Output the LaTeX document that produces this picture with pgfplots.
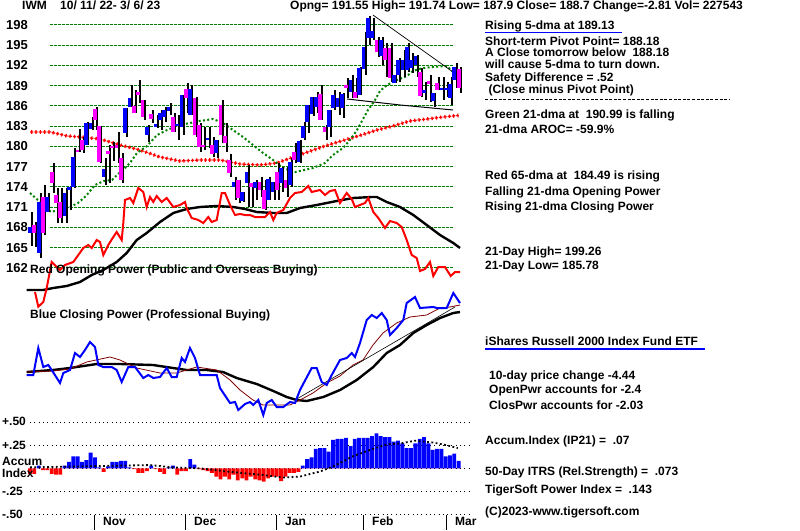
\documentclass[border=0pt]{standalone}
\usepackage{pgfplots}
\pgfplotsset{compat=1.18}
\usepackage{pgfplotstable}
\usepackage{fontspec}
\setmainfont{Liberation Sans}

\definecolor{tsblue}{RGB}{0,0,255}
\definecolor{tsmag}{RGB}{255,0,255}
\definecolor{tsred}{RGB}{255,0,0}
\definecolor{tsgreen}{RGB}{0,128,0}
\definecolor{tsmaroon}{RGB}{128,0,0}

\newcommand\tf{\fontsize{12}{14}\selectfont\bfseries}
\newcommand\pf{\fontsize{13}{15}\selectfont\bfseries}

% daily bars: day, open, high, low, close
\pgfplotstableread{
d o h l c
0 167.19 170.30 165.26 168.07
1 168.37 168.81 165.11 167.19
2 164.22 173.11 163.50 171.78
3 172.52 174.30 166.89 167.19
4 170.30 173.11 170.30 172.52
5 176.22 177.56 173.11 174.59
6 172.81 173.85 168.67 171.63
7 171.78 173.85 168.67 169.41
8 169.70 173.85 168.67 173.11
9 173.56 174.00 170.59 174.00
10 174.00 179.78 173.85 178.44
11 179.48 182.59 179.19 179.19
12 180.96 181.41 179.04 179.48
13 180.22 183.63 180.22 183.48
14 182.59 184.37 182.44 183.48
15 185.56 185.85 182.44 183.93
16 183.04 183.04 177.56 177.70
17 175.48 178.30 174.30 176.67
18 179.19 180.22 174.59 179.04
19 180.07 180.67 177.85 179.78
20 180.22 182.15 177.56 179.78
21 178.30 179.04 174.59 175.04
22 182.00 185.70 181.41 185.70
23 185.85 189.11 185.85 187.19
24 186.00 188.37 184.96 184.96
25 188.07 189.85 186.44 187.63
26 186.89 186.89 183.93 184.37
27 181.70 183.19 180.67 182.89
28 184.81 185.41 183.48 184.07
29 183.04 184.67 182.74 183.19
30 183.93 185.41 182.44 184.96
31 184.37 185.85 183.63 185.41
32 185.26 186.44 184.67 185.85
33 184.37 184.96 182.15 182.15
34 183.20 184.67 180.96 183.25
35 182.89 187.63 181.70 187.63
36 188.52 189.41 184.96 187.19
37 184.67 189.11 184.67 188.52
38 187.19 187.33 181.41 181.70
39 183.19 183.48 179.19 179.93
40 180.22 182.89 179.48 179.93
41 181.10 182.89 179.78 181.15
42 180.22 181.41 178.44 178.89
43 179.04 180.96 178.30 180.96
44 186.15 186.89 180.52 181.70
45 181.56 183.48 179.19 180.52
46 178.00 178.89 175.48 176.07
47 174.00 175.48 172.07 174.74
48 175.04 175.04 171.63 172.37
49 171.93 173.26 171.78 173.26
50 174.59 177.26 171.04 176.22
51 174.59 174.59 171.04 174.00
52 173.85 175.04 172.07 174.74
53 174.74 175.48 172.52 173.56
54 173.56 175.04 170.59 170.74
55 172.07 175.48 172.07 175.19
56 173.26 174.74 172.07 174.74
57 176.22 177.56 172.07 173.56
58 174.59 176.96 173.26 176.81
59 175.04 176.96 172.52 173.85
60 174.30 178.30 174.00 177.70
61 179.19 180.52 177.56 178.00
62 177.70 180.96 177.56 180.81
63 181.26 183.63 180.96 183.04
64 183.63 186.15 182.00 186.15
65 184.81 187.33 184.52 187.33
66 185.85 188.07 184.96 187.33
67 187.78 189.11 183.93 183.93
68 182.89 183.19 180.96 182.15
69 182.89 185.41 181.41 185.41
70 185.70 188.37 185.41 187.63
71 185.85 188.07 184.67 187.19
72 185.70 187.93 184.20 187.78
73 189.11 190.15 187.19 188.67
74 188.07 190.59 187.19 189.85
75 188.07 190.15 187.19 187.19
76 187.63 191.78 187.63 191.63
77 191.48 197.00 190.59 194.74
78 196.07 199.26 195.04 199.10
79 196.07 199.00 195.78 197.11
80 195.78 196.22 193.26 194.00
81 193.41 196.22 192.07 195.78
82 194.59 195.33 190.30 192.81
83 194.59 195.33 189.56 190.15
84 189.41 190.59 189.41 190.59
85 190.59 193.11 189.56 192.81
86 191.33 194.30 190.30 192.81
87 191.33 195.33 191.04 194.74
88 191.63 193.85 190.89 192.81
89 192.07 193.56 190.30 193.41
90 191.04 191.63 187.33 187.48
91 187.93 189.56 186.89 188.37
92 189.56 190.59 186.59 189.41
93 186.74 187.93 185.85 187.93
94 189.41 190.30 188.37 188.37
95 188.37 190.30 186.89 188.67
96 188.37 189.56 187.33 188.67
97 187.19 190.30 186.15 189.26
98 189.85 192.37 188.67 191.78
99 191.55 191.74 187.90 188.70
}\ohlc

% red 65-day moving average
\pgfplotstableread{
d ma
0 182.15
4.62 182.15
8.55 181.56
11.55 181.41
16.17 181.11
20.79 180.22
25.40 179.48
30.02 178.44
34.64 177.85
39.26 178.00
43.88 178.00
48.50 177.41
53.12 177.26
57.04 177.56
59.58 178.15
63.51 179.04
67.44 179.93
71.13 180.67
75.06 181.41
80.14 182.44
83.83 183.04
87.76 183.78
91.69 184.07
95.38 184.37
99 184.60
}\masixtyfive

% accumulation index (IP21), one bar a day
\pgfplotstableread{
d a
0 -0.06
1 -0.06
2 0.03
3 -0.02
4 -0.02
5 -0.06
6 -0.07
7 -0.07
8 0.03
9 0.07
10 0.13
11 0.13
12 0.07
13 0.09
14 0.17
15 0.12
16 0.01
17 -0.04
18 0.02
19 0.07
20 0.07
21 0.08
22 0.08
23 0.01
24 -0.01
25 -0.05
26 -0.05
27 -0.03
28 0.03
29 -0.01
30 -0.04
31 -0.06
32 0.01
33 0.03
34 -0.07
35 -0.03
36 -0.03
37 0.10
38 0.04
39 -0.01
40 -0.02
41 -0.03
42 -0.05
43 -0.09
44 -0.12
45 -0.09
46 -0.12
47 -0.07
48 -0.13
49 -0.11
50 -0.13
51 -0.09
52 -0.12
53 -0.13
54 -0.145
55 -0.11
56 -0.09
57 -0.09
58 -0.14
59 -0.09
60 -0.05
61 -0.05
62 -0.04
63 0.03
64 0.10
65 0.12
66 0.21
67 0.22
68 0.22
69 0.18
70 0.31
71 0.32
72 0.32
73 0.33
74 0.24
75 0.32
76 0.33
77 0.33
78 0.33
79 0.35
80 0.38
81 0.35
82 0.34
83 0.34
84 0.29
85 0.30
86 0.27
87 0.22
88 0.22
89 0.27
90 0.32
91 0.34
92 0.27
93 0.20
94 0.21
95 0.21
96 0.13
97 0.14
98 0.16
99 0.08
}\accum

\pgfplotsset{
  tsframe/.style={scale only axis, width=800pt, height=530pt, at={(0,0)},
    anchor=south west, axis lines=none, ticks=none, clip=false},
  dayx/.style={xmin=-6.9284, xmax=177.829},
}

\begin{document}
\begin{tikzpicture}[x=1pt,y=1pt]
\useasboundingbox (0,0) rectangle (800,530);
\fill[white] (0,0) rectangle (800,530);

% ---- price grid and labels: 198 sits 25px below the top, one 3-point step = 20.25px
\begin{scope}[every node/.style={anchor=west, inner sep=0pt, font=\pf},
              grid/.style={tsgreen, line width=1pt, dash pattern=on 2.5pt off 1.5pt}]
\draw[grid] (50,505) -- (453,505);       \node at (6,505) {198};
\draw[grid] (50,484.75) -- (453,484.75); \node at (6,484.75) {195};
\draw[grid] (50,464.5) -- (453,464.5);   \node at (6,464.5) {192};
\draw[grid] (50,444.25) -- (453,444.25); \node at (6,444.25) {189};
\draw[grid] (50,424) -- (453,424);       \node at (6,424) {186};
\draw[grid] (50,403.75) -- (453,403.75); \node at (6,403.75) {183};
\draw[grid] (50,383.5) -- (453,383.5);   \node at (6,383.5) {180};
\draw[grid] (50,363.25) -- (453,363.25); \node at (6,363.25) {177};
\draw[grid] (50,343) -- (453,343);       \node at (6,343) {174};
\draw[grid] (50,322.75) -- (453,322.75); \node at (6,322.75) {171};
\draw[grid] (50,302.5) -- (453,302.5);   \node at (6,302.5) {168};
\draw[grid] (50,282.25) -- (453,282.25); \node at (6,282.25) {165};
\draw[grid] (50,262) -- (453,262);       \node at (6,262) {162};
\end{scope}

% ---- opening / closing power panel (unscaled, pixel units)
\begin{axis}[tsframe, xmin=0, xmax=800, ymin=0, ymax=530, y dir=reverse]
\addplot[black, line width=2.4pt] coordinates {
(26.7,290) (43.3,290) (53.3,288) (66.7,286) (80,282) (91.7,275) (103.3,270) (116.7,262)
(126.7,253) (136.7,240) (146.7,233) (160,222) (173.3,213) (186.7,209) (200,207) (216.7,206)
(233.3,207) (245,209) (256.7,212) (273.3,213) (286.7,213) (300,208) (316.7,205) (336.7,201)
(353.3,198) (371.7,197) (376.7,197) (386.7,202) (400,207) (413.3,215) (426.7,225) (440,235)
(453.3,243) (460,248)};
\addplot[tsred, line width=2pt] coordinates {
(35,292) (38.3,306.7) (43.3,302) (46.7,288) (51.7,262) (56.7,267) (60,270) (65,265) (73.3,262)
(78.3,255) (83.3,248) (88.3,245) (91.7,248) (96.7,240) (100,242) (103.3,255) (108.3,245)
(113.3,237) (116.7,232) (121.7,240) (123.3,223) (125,200) (130,198) (133.3,203) (138.3,188)
(143.3,192) (146.7,207) (150,197) (153.3,202) (156.7,196) (161.7,202) (166.7,198) (173.3,207)
(180,205) (185,202) (186.7,208) (191.7,218) (198.3,220) (203.3,223) (208.3,217) (211.7,222)
(216.7,220) (221.7,193) (225,193) (230,205) (235,215) (240,214) (245,215) (250,215) (255,217)
(265,217) (270,212) (273.3,220) (276.7,213) (283.3,210) (290,198) (295,193) (301.7,192)
(308.3,186) (311.7,192) (320,190) (325,195) (330,191) (335,190) (340,203) (346.7,193)
(351.7,199) (355,207) (365,203) (368.3,198) (373.3,212) (378.3,218) (385,228) (390,221)
(396.7,223) (401.7,227) (406.7,240) (411.7,255) (416.7,258) (420,271) (425,269) (430,262)
(433.3,276) (438.3,267) (445,267) (450.7,276) (455,272) (460,272)};
\addplot[black, line width=2.4pt] coordinates {
(26.7,372) (53,370) (70,368) (96.7,364) (120,364) (153,365) (173,368) (186.7,370) (206.7,370)
(223,372) (236.7,378) (250,382) (256.7,384) (273.3,391) (286.7,397) (296.7,400) (306.7,401)
(323.3,397) (340,390) (356.7,380) (373.3,367) (386.7,353) (400,345) (413.3,333) (426.7,325)
(440,318) (453.3,313) (460,312)};
\addplot[tsmaroon, line width=0.8pt] coordinates {
(26.7,372) (53,371) (70,369) (86.7,362) (110,357) (120,360) (136.7,368) (160,373) (176.7,373)
(196.7,367) (216.7,370) (230,380) (240,390) (253,400) (263,405) (290,405) (300,400) (313,393)
(326.7,383) (340,376) (353,365) (363,360) (373,345) (383,333) (396.7,323) (410,317)
(426.7,315) (440,308) (450,307) (460,305)};
\addplot[black, line width=0.6pt] coordinates {(295,400) (455,307)};
\addplot[tsblue, line width=2pt] coordinates {
(26.7,375) (33.3,375) (38.3,348) (43.3,367) (48.3,365) (51.7,370) (60,383) (63.3,373) (70,370)
(75,353) (80,357) (85,350) (90,342) (95,347) (98.3,365) (103.3,367) (111.7,367) (116.7,370)
(121.7,382) (128.3,367) (135,367) (143.3,378) (148.3,375) (153.3,378) (160,377) (166.7,368)
(171.7,377) (176.7,377) (181.7,358) (185,362) (190,348) (195,358) (200,375) (210,375)
(216.7,375) (220,388) (230,403) (235,402) (238.3,410) (245,404) (250,402) (253.3,405)
(258.3,400) (263.3,415) (266.7,403) (271.7,400) (276.7,407) (283.3,407) (290,402) (295,403)
(300,390) (311.7,368) (316.7,368) (321.7,382) (326.7,385) (331.7,375) (340,360) (346.7,358)
(351.7,353) (355,357) (360,343) (366.7,320) (371.7,315) (376.7,318) (381.7,313) (386.7,320)
(390,335) (396.7,328) (403.3,320) (406.7,303) (415,297) (420,308) (433.3,307) (436.7,308)
(446.7,308) (453.3,293) (460,303)};
\end{axis}

% ---- price panel
\begin{axis}[tsframe, dayx, ymin=123.185, ymax=201.704]
% 65-dma drawn as a row of small crosses: a thin dash (horizontal stroke)
% under a short thick dash (vertical stroke), one cross per 4.33px day
\addplot[tsred, line width=1.3pt, dash pattern=on 3.4pt off 0.93pt] table[x=d, y=ma] {\masixtyfive};
\addplot[tsred, line width=3.6pt, dash pattern=on 0pt off 1.1pt on 1.2pt off 2.03pt] table[x=d, y=ma] {\masixtyfive};
% 21-dma
\addplot[tsgreen, line width=2pt, dash pattern=on 2pt off 2.33pt] coordinates {
(0,173.11) (4.85,170.30) (9.24,171.04) (11.09,171.63) (12.93,172.67) (15.01,174.30)
(17.09,174.89) (18.94,175.04) (20.09,175.78) (21.94,176.81) (23.09,177.56) (24.71,179.04)
(27.02,180.07) (29.33,181.70) (31.64,182.44) (34.64,183.19) (36.95,183.48) (39.26,183.78)
(42.26,184.07) (44.57,183.48) (46.88,182.44) (49.19,181.41) (51.50,180.22) (53.81,179.04)
(56.12,178.0) (58.43,176.81) (61.20,176.22) (65.36,176.81) (68.13,177.56) (69.98,178.74)
(72.29,179.78) (73.90,180.96) (75.52,182.44) (76.91,184.07) (78.06,185.41) (79.68,186.89)
(80.83,188.22) (82.45,189.11) (84.76,189.85) (87.07,190.44) (88.45,191.19) (90.76,191.63)
(93.07,191.78) (96.30,191.93) (97.69,191.04) (99,191.0)};
% trend lines
\addplot[black, line width=0.7pt] coordinates {(79.2,199.48) (97.69,191.04)};
\addplot[black, line width=1pt] coordinates {(73.2,187.04) (85.45,186.15) (97.69,185.41)};
% high-low wicks
\addplot[draw=none, error bars/.cd, y dir=both, y explicit, error mark=none,
  error bar style={draw=black, line width=2pt}]
  table[x expr=\thisrow{d}+0.5, y expr={(\thisrow{h}+\thisrow{l})/2},
        y error expr={(\thisrow{h}-\thisrow{l})/2}] {\ohlc};
% open-close bodies: blue when the close is at or above the open, magenta otherwise
\addplot[draw=none, error bars/.cd, y dir=both, y explicit, error mark=none,
  error bar style={draw=tsblue, line width=3.7pt}]
  table[x=d, y expr={\thisrow{c}>=\thisrow{o} ? (\thisrow{o}+\thisrow{c})/2 : nan},
        y error expr={max(abs(\thisrow{c}-\thisrow{o})/2,0.16)}] {\ohlc};
\addplot[draw=none, error bars/.cd, y dir=both, y explicit, error mark=none,
  error bar style={draw=tsmag, line width=3.7pt}]
  table[x=d, y expr={\thisrow{c}<\thisrow{o} ? (\thisrow{o}+\thisrow{c})/2 : nan},
        y error expr={max(abs(\thisrow{c}-\thisrow{o})/2,0.16)}] {\ohlc};
\end{axis}

% ---- accumulation index panel
\begin{axis}[tsframe, dayx, ymin=-0.6707, ymax=5.0902]
\pgfplotsinvokeforeach{-0.5,-0.25,0,0.25,0.5}{
  \draw[black, line width=0.9pt, dash pattern=on 1pt off 3.3pt] (axis cs:0,#1) -- (axis cs:102.1,#1);
}
\addplot[ybar, bar width=3.8pt, bar shift=0pt, fill=tsblue, draw=none] table[x=d, y expr={max(\thisrow{a},0)}] {\accum};
\addplot[ybar, bar width=3.8pt, bar shift=0pt, fill=tsred, draw=none] table[x=d, y expr={min(\thisrow{a},0)}] {\accum};
\addplot[black, line width=1.8pt, dash pattern=on 1.8pt off 2.5pt] coordinates {
(0,0.01) (16.17,0.025) (27.71,0.035) (33.03,0.01) (39.26,0) (45.5,-0.035) (53.12,-0.07)
(58.43,-0.10) (62.36,-0.09) (66.97,-0.035) (69.98,0.02) (74.6,0.13) (78.52,0.20) (82.45,0.26)
(85.45,0.27) (88.91,0.30) (93.07,0.28) (96.3,0.25) (98.8,0.22)};
\end{axis}

% ---- month ticks
\foreach \mx/\mn in {94/Nov,185/Dec,276/Jan,363/Feb,446/Mar}{
  \draw[black, line width=1pt] (\mx,0) -- (\mx,15);
  \node[anchor=base west, inner sep=0pt, font=\tf] at (\mx+9,5) {\mn};
}

% ---- panel labels
\node[anchor=base west, inner sep=0pt, font=\tf] at (2,104.3) {+.50};
\node[anchor=base west, inner sep=0pt, font=\tf] at (2,81) {+.25};
\node[anchor=base west, inner sep=0pt, font=\tf] at (2,64) {Accum};
\node[anchor=base west, inner sep=0pt, font=\tf] at (2,52.3) {Index};
\node[anchor=base west, inner sep=0pt, font=\tf] at (2,35) {-.25};
\node[anchor=base west, inner sep=0pt, font=\tf] at (2,11.7) {-.50};
\node[anchor=base west, inner sep=0pt, font=\tf] at (30,256.7) {Red Opening Power (Public and Overseas Buying)};
\node[anchor=base west, inner sep=0pt, font=\tf] at (30,211) {Blue Closing Power (Professional Buying)};

% ---- header
\node[anchor=base west, inner sep=0pt, font=\tf] at (22,520) {IWM};
\node[anchor=base west, inner sep=0pt, font=\tf] at (60,520) {10/ 11/ 22- 3/ 6/ 23};
\node[anchor=base west, inner sep=0pt, font=\tf] at (290,520) {Opng= 191.55 High= 191.74 Low= 187.9 Close= 188.7 Change=-2.81 Vol= 227543};

% ---- right-hand notes
\begin{scope}[every node/.style={anchor=base west, inner sep=0pt, font=\tf}]
\node at (485,500.7) {Rising 5-dma at 189.13};
\draw[tsblue, line width=1pt] (485,497.7) -- (622,497.7);
\node at (485,484.7) {Short-term Pivot Point= 188.18};
\node at (485,473.3) {A Close tomorrow below\ \ 188.18};
\node at (485,461) {will cause 5-dma to turn down.};
\node at (485,448.3) {Safety Difference = .52};
\node at (485,436) {\ (Close minus Pivot Point)};
\draw[black, line width=1pt, dash pattern=on 3pt off 1.6pt] (485,430) -- (730,430);
\node at (485,411) {Green 21-dma at\ \ 190.99 is falling};
\node at (485,396) {21-dma AROC= -59.9\%};
\node at (485,350) {Red 65-dma at\ \ 184.49 is rising};
\node at (485,334) {Falling 21-dma Opening Power};
\node at (485,319) {Rising 21-dma Closing Power};
\node at (485,274) {21-Day High= 199.26};
\node at (485,260.7) {21-Day Low= 185.78};
\node at (485,184) {iShares Russell 2000 Index Fund ETF};
\draw[tsblue, line width=1.6pt] (485,181) -- (705,181);
\node at (489,150.7) {10-day price change -4.44};
\node at (489,136) {OpenPwr accounts for -2.4};
\node at (489,120.7) {ClosPwr accounts for -2.03};
\node at (485,85) {Accum.Index (IP21) =\ \ .07};
\node at (485,55) {50-Day ITRS (Rel.Strength) =\ \ .073};
\node at (485,36.7) {TigerSoft Power Index =\ \ .143};
\node at (485,15) {(C)2023-www.tigersoft.com};
\end{scope}
\end{tikzpicture}
\end{document}
